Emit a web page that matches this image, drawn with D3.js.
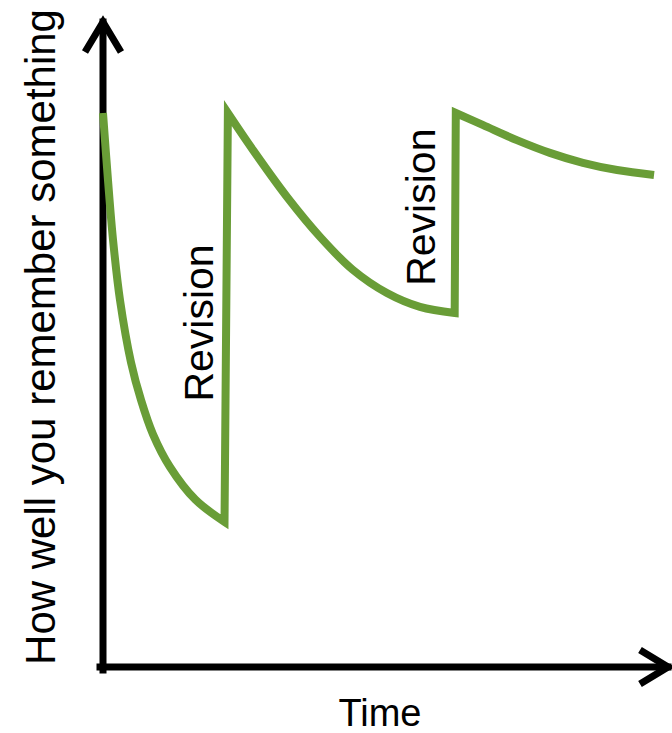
<!DOCTYPE html>
<html>
<head>
<meta charset="utf-8">
<script src="https://cdn.jsdelivr.net/npm/d3@7"></script>
<style>
  body { margin: 0; background: #fff; }
  text { font-family: "Liberation Sans", Arial, Helvetica, sans-serif; fill: #000; }
</style>
</head>
<body>
<div id="chart"></div>
<script>
const width = 672, height = 733;

// forgetting curve, one array per stretch between revisions [time, memory]
const decay1 = [[0, 100], [0.089, 87.9], [0.179, 77.1], [0.304, 66.2], [0.5, 55.0], [0.679, 48.2], [0.893, 42.0], [1.196, 36.1], [1.65, 30.2], [2.17, 26.2]];
const decay2 = [[2.23, 100], [2.68, 93.3], [3.29, 84.8], [3.88, 77.6], [4.46, 71.7], [5.07, 67.5], [5.66, 65.0], [6.28, 63.9]];
const decay3 = [[6.30, 100], [6.79, 97.8], [7.39, 95.1], [7.98, 92.8], [8.57, 91.0], [9.18, 89.7], [9.84, 88.8]];

// label anchors (time, memory) for the two revision notes
const revisionLabelTime = [1.96, 5.93];
const revisionLabelMemory = [62.1, 83.0];
const revisionLabel = "Revision";
const xLabel = "Time";
const yLabel = "How well you remember something";

const svg = d3.select("#chart")
  .append("svg")
  .attr("width", width)
  .attr("height", height);

const x = d3.scaleLinear().domain([0, 10]).range([103, 663]);
const y = d3.scaleLinear().domain([0, 100]).range([667, 113]);

// axes with arrow heads
const axisColor = "#000";
const axisWidth = 7;

svg.append("line")
  .attr("x1", x(0)).attr("y1", y(0) + 3)
  .attr("x2", x(0)).attr("y2", 22)
  .attr("stroke", axisColor)
  .attr("stroke-width", axisWidth)
  .attr("stroke-linecap", "square");

svg.append("line")
  .attr("x1", x(0) - 3).attr("y1", y(0))
  .attr("x2", 668).attr("y2", y(0))
  .attr("stroke", axisColor)
  .attr("stroke-width", axisWidth)
  .attr("stroke-linecap", "square");

svg.append("path")
  .attr("d", `M${x(0) - 18},52 L${x(0)},22 L${x(0) + 18},52`)
  .attr("fill", "none")
  .attr("stroke", axisColor)
  .attr("stroke-width", axisWidth)
  .attr("stroke-linejoin", "miter");

svg.append("path")
  .attr("d", `M640,${y(0) - 17} L668,${y(0)} L640,${y(0) + 17}`)
  .attr("fill", "none")
  .attr("stroke", axisColor)
  .attr("stroke-width", axisWidth)
  .attr("stroke-linejoin", "miter");

// the curve: smooth decays joined by straight jumps
const line = d3.line()
  .curve(d3.curveCatmullRom.alpha(0.5))
  .x(d => x(d[0]))
  .y(d => y(d[1]));

const pathD = [decay1, decay2, decay3]
  .map((seg, i) => {
    const d = line(seg);
    return i === 0 ? d : "L" + d.slice(1);
  })
  .join("");

svg.append("path")
  .attr("d", pathD)
  .attr("fill", "none")
  .attr("stroke", "#699d37")
  .attr("stroke-width", 8)
  .attr("stroke-linejoin", "miter")
  .attr("stroke-miterlimit", 10);

// revision labels
revisionLabelTime.forEach((t, i) => {
  svg.append("text")
    .attr("transform", `translate(${x(t)},${y(revisionLabelMemory[i])}) rotate(-90)`)
    .attr("text-anchor", "middle")
    .style("font-size", "41px")
    .text(revisionLabel);
});

// axis titles
svg.append("text")
  .attr("x", 380)
  .attr("y", 726)
  .attr("text-anchor", "middle")
  .style("font-size", "38px")
  .text(xLabel);

svg.append("text")
  .attr("transform", "translate(55,337) rotate(-90)")
  .attr("text-anchor", "middle")
  .style("font-size", "42px")
  .text(yLabel);
</script>
</body>
</html>
